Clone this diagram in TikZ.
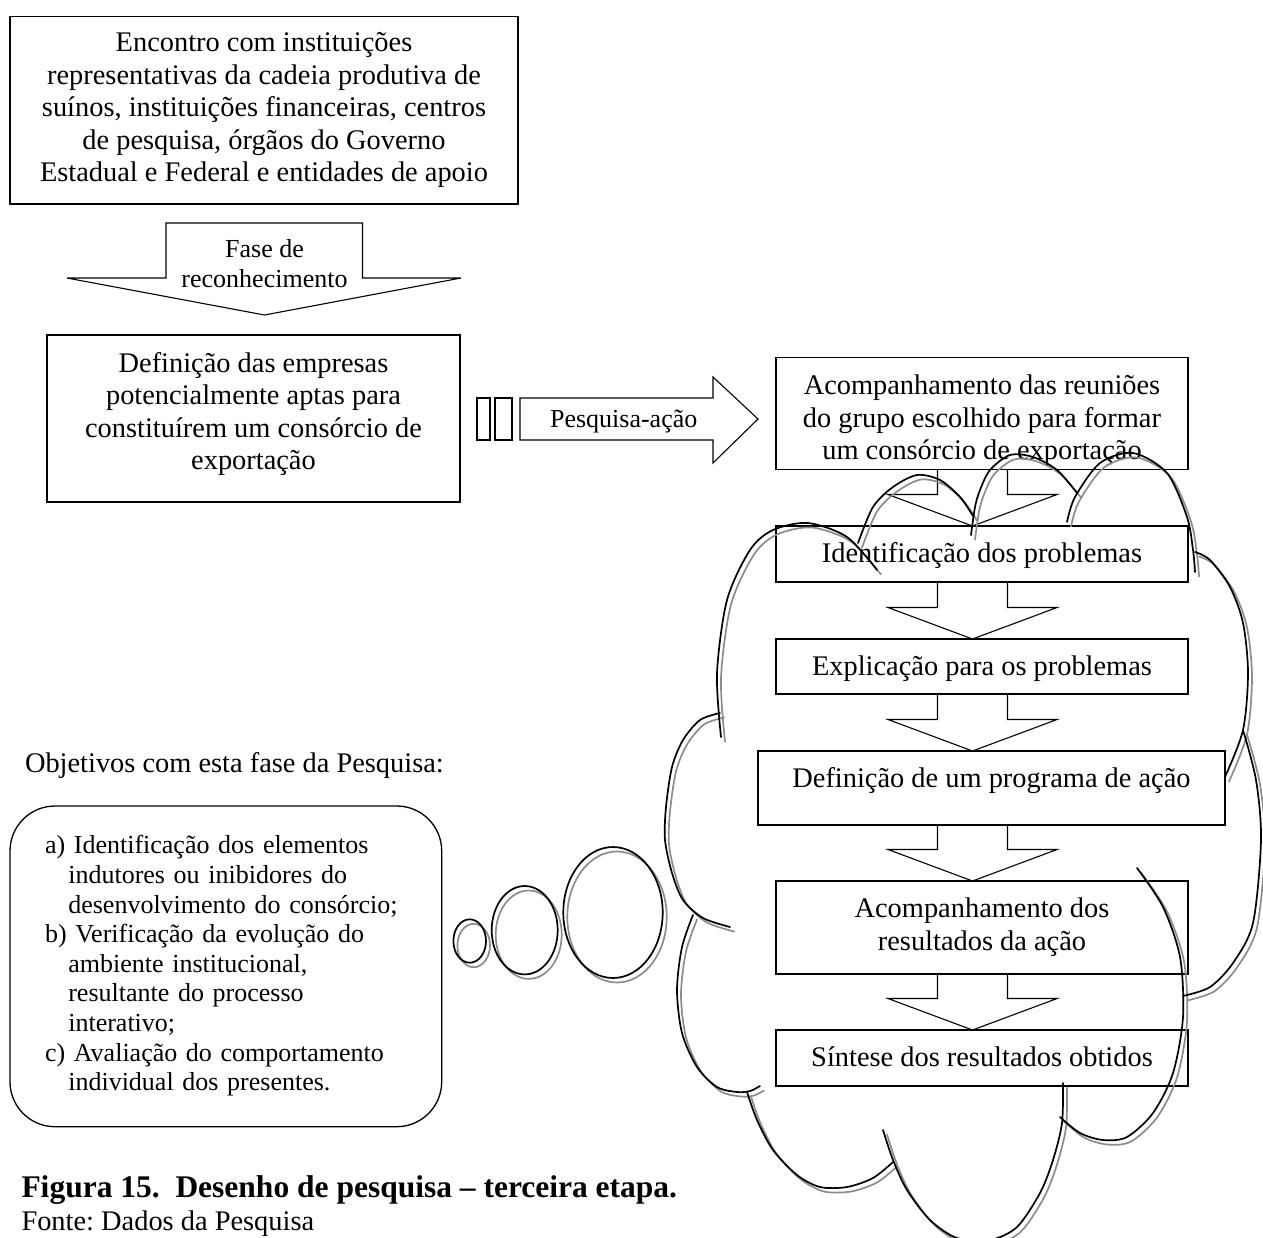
\documentclass[tikz,border=0pt]{standalone}
\usepackage{fontspec}
\setmainfont{Liberation Serif}
\usetikzlibrary{calc}
\frenchspacing
\newcommand\bigtxt{\fontsize{28.4}{32.5}\selectfont}
\newcommand\midtxt{\fontsize{26}{30}\selectfont}
\newcommand\listtxt{\fontsize{26}{29.6}\selectfont}
\newcommand\captxt{\fontsize{31.5}{36}\selectfont\bfseries}

% block arrow pointing down from one box to the next
\newcommand\flowarrow[2]{%
  \draw[blockarrow] ($(ax |- #1.south)+(-35,0)$) -- ($(ax |- #2.north)+(-35,-31.5)$)
    -- ($(ax |- #2.north)+(-84.5,-31.5)$) -- (ax |- #2.north)
    -- ($(ax |- #2.north)+(84.5,-31.5)$) -- ($(ax |- #2.north)+(35,-31.5)$)
    -- ($(ax |- #1.south)+(35,0)$);}

% the overlapping arcs of the cloud outline
\newcommand\cloudpaths[1]{%
  \draw[#1] plot[smooth] coordinates {(721,737) (717,673) (727,600) (750,550) (773,530) (808,523) (847,537) (877,570)};
  \draw[#1] plot[smooth] coordinates {(858,543) (873,507) (893,487) (917,475) (940,480) (960,497) (973,516)};
  \draw[#1] plot[smooth] coordinates {(971,535) (975,507) (980,490) (990,470) (1010,455) (1033,457) (1057,470) (1077,493)};
  \draw[#1] plot[smooth] coordinates {(1067,522) (1075,497) (1100,463) (1133,453) (1167,473) (1187,517) (1193,550) (1195,572)};
  \draw[#1] plot[smooth] coordinates {(1195,552) (1210,560) (1230,587) (1243,623) (1248,673) (1243,730) (1225,777)};
  \draw[#1] plot[smooth] coordinates {(1243,730) (1256,780) (1261,840) (1253,923) (1233,963) (1210,987) (1183,996)};
  \draw[#1] plot[smooth] coordinates {(1137,868) (1163,907) (1180,957) (1183,1017) (1173,1073) (1153,1113) (1127,1137) (1103,1140) (1080,1133) (1060,1117)};
  \draw[#1] plot[smooth] coordinates {(1063,1083) (1062,1123) (1053,1160) (1040,1193) (1017,1227) (990,1240) (957,1238) (930,1220) (907,1190) (893,1160) (883,1130)};
  \draw[#1] plot[smooth] coordinates {(893,1162) (873,1178) (847,1187) (820,1187) (797,1175) (773,1150) (757,1120) (747,1092)};
  \draw[#1] plot[smooth] coordinates {(693,915) (682,947) (677,990) (682,1033) (697,1067) (717,1087) (737,1092) (750,1091) (760,1086)};
  \draw[#1] plot[smooth] coordinates {(720,713) (700,720) (683,740) (672,767) (666,807) (665,840) (672,873) (683,900) (703,918) (730,927)};
}

% the three thought bubbles
\newcommand\bubbles[1]{%
  \draw[#1] (469.7,941) ellipse [x radius=16.3, y radius=21.7];
  \draw[#1] (524.7,930.2) ellipse [x radius=33, y radius=44.2];
  \draw[#1] (613,912.5) ellipse [x radius=49.7, y radius=65.5];
}

\begin{document}
\begin{tikzpicture}[x=1pt,y=-1pt,
  every node/.style={inner sep=0pt, outer sep=0pt},
  box/.style={draw, line width=1.1pt, align=center, font=\bigtxt},
  sbox/.style={box, minimum width=412pt, text height=22pt, text depth=5pt},
  blockarrow/.style={draw, line width=1.1pt, line join=miter},
  arcline/.style={draw=black, line width=1.7pt, line cap=round},
  shadeline/.style={draw=black!45, line width=1.7pt, line cap=round},
]
\useasboundingbox (0,0) rectangle (1263,1237);

% left column
\node[box, minimum width=508pt, minimum height=187.3pt] (n1) at (264,110.35)
  {\strut Encontro com instituições\\representativas da cadeia produtiva de\\suínos, instituições financeiras, centros\\de pesquisa, órgãos do Governo\\Estadual e Federal e entidades de apoio\strut};
\node[box, minimum width=413pt, minimum height=167pt] (n2) at (253.5,418.5)
  {\strut Definição das empresas\\potencialmente aptas para\\constituírem um consórcio de\\exportação\rule[-17.75pt]{0pt}{0pt}};

% "Fase de reconhecimento" block arrow
\coordinate (fatop) at ($(n1.south)+(0.5,19)$);
\coordinate (fatip) at ($(n2.north)+(11,-20)$);
\draw[blockarrow] ($(fatop)+(-98.5,0)$) -- ($(fatop)+(98,0)$) -- ($(fatop)+(98,55)$)
  -- ($(fatop)+(196.5,55)$) -- (fatip) -- ($(fatop)+(-197.5,55)$)
  -- ($(fatop)+(-98.5,55)$) -- cycle;
\node[font=\midtxt, align=center] (fasetxt) at (264.5,266) {\strut Fase de\\reconhecimento\strut};

% right column
\node[box, minimum width=412pt, minimum height=111pt] (n3) at (982,413.5)
  {\rule{0pt}{36.75pt}Acompanhamento das reuniões\\do grupo escolhido para formar\\um consórcio de exportação\strut};
\node[sbox, minimum height=56pt] (n4) at (982,554) {Identificação dos problemas};
\node[sbox, minimum height=55pt] (n5) at (982,666.5) {Explicação para os problemas};
\node[box, minimum width=467pt, minimum height=74pt, text height=22.75pt, text depth=24.75pt] (n6) at (991.5,788)
  {Definição de um programa de ação};
\node[box, minimum width=412pt, minimum height=93pt] (n7) at (982,927.5)
  {\strut Acompanhamento dos\\resultados da ação\strut};
\node[sbox, minimum height=56pt] (n8) at (982,1058) {Síntese dos resultados obtidos};

% "Pesquisa-ação" striped arrow
\coordinate (pa) at ($(n2.east)+(17,0.5)$);
\draw[blockarrow] ($(pa)+(0,-21)$) rectangle ($(pa)+(13,21)$);
\draw[blockarrow] ($(pa)+(18,-21)$) rectangle ($(pa)+(35,21)$);
\draw[blockarrow] ($(pa)+(43,-21)$) -- ($(pa)+(236,-21)$) -- ($(pa)+(236,-42)$)
  -- ($(pa)+(281,0)$) -- ($(pa)+(236,44)$) -- ($(pa)+(236,21)$) -- ($(pa)+(43,21)$) -- cycle;
\node[anchor=base, font=\midtxt] (patxt) at (623.7,427) {Pesquisa-ação};

% down arrows between the steps
\coordinate (ax) at (972.5,0);
\flowarrow{n3}{n4}
\flowarrow{n4}{n5}
\flowarrow{n5}{n6}
\flowarrow{n6}{n7}
\flowarrow{n7}{n8}

% objectives
\node[anchor=base west, font=\bigtxt] (obj) at (25,772) {Objetivos com esta fase da Pesquisa:};
\node[draw, line width=1.3pt, rounded corners=45pt, minimum width=431.7pt, minimum height=320.7pt,
  text width=361.7pt, align=left, inner xsep=35pt, font=\listtxt] (goals) at (225.85,966.35)
  {\strut a) Identificação dos elementos\\
   \hspace*{23.3pt}indutores ou inibidores do\\
   \hspace*{23.3pt}desenvolvimento do consórcio;\\
   b) Verificação da evolução do\\
   \hspace*{23.3pt}ambiente institucional,\\
   \hspace*{23.3pt}resultante do processo\\
   \hspace*{23.3pt}interativo;\\
   c) Avaliação do comportamento\\
   \hspace*{23.3pt}individual dos presentes.\strut};

% thought bubbles and cloud, shadow first
\bubbles{shadeline, shift={(4,4.5)}}
\bubbles{arcline}
\cloudpaths{shadeline, shift={(4,4.5)}}
\cloudpaths{arcline}

% caption
\node[anchor=base west, font=\captxt] (cap) at (21.5,1197) {Figura 15.~~Desenho de pesquisa – terceira etapa.};
\node[anchor=base west, font=\bigtxt] (src) at (21.5,1230) {Fonte: Dados da Pesquisa};
\end{tikzpicture}
\end{document}
